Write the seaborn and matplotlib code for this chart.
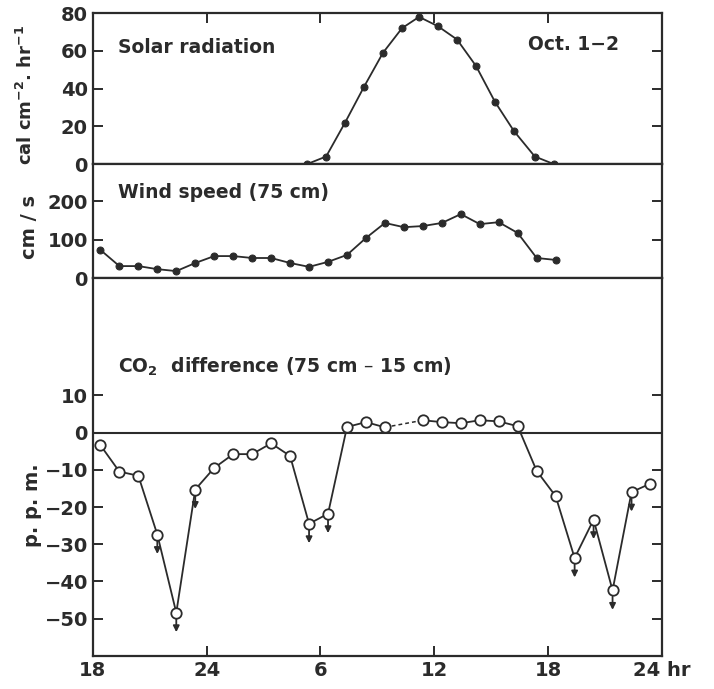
import numpy as np
import pandas as pd
import matplotlib
matplotlib.use("Agg")
import matplotlib.pyplot as plt
import seaborn as sns

# ---- data (hours counted from 18 h on Oct. 1; 48 = 24 h on Oct. 2) ----
solar_hours = [29.3, 30.3, 31.3, 32.3, 33.3, 34.3, 35.2, 36.2, 37.2, 38.2, 39.2, 40.2, 41.3, 42.3]
solar_vals = [0, 4, 22, 41, 59, 72, 78, 73, 66, 52, 33, 17.5, 4, 0]

wind_hours = [18.4, 19.4, 20.4, 21.4, 22.4, 23.4, 24.4, 25.4, 26.4, 27.4, 28.4, 29.4, 30.4,
              31.4, 32.4, 33.4, 34.4, 35.4, 36.4, 37.4, 38.4, 39.4, 40.4, 41.4, 42.4]
wind_vals = [73, 31, 31, 23, 18, 39, 57, 57, 52, 52, 39, 29, 42,
             60, 104, 143, 132, 135, 143, 166, 140, 145, 117, 52, 47]

co2_hours = [18.4, 19.4, 20.4, 21.4, 22.4, 23.4, 24.4, 25.4, 26.4, 27.4, 28.4, 29.4, 30.4,
             31.4, 32.4, 33.4, 34.4, 35.4, 36.4, 37.4, 38.4, 39.4, 40.4, 41.4, 42.4, 43.4,
             44.4, 45.4, 46.4, 47.4]
co2_vals = [-3.4, -10.5, -11.6, -27.4, -48.4, -15.3, -9.5, -5.8, -5.8, -2.9, -6.3, -24.5, -21.8,
            1.5, 2.8, 1.4, np.nan, 3.3, 2.8, 2.5, 3.3, 3.0, 1.7, -10.3, -17.1, -33.7,
            -23.4, -42.4, -16.0, -13.7]
# points whose true value lies below the plotted one (drawn with a downward arrow)
co2_below = [0, 0, 0, 1, 1, 1, 0, 0, 0, 0, 0, 1, 1,
             0, 0, 0, 0, 0, 0, 0, 0, 0, 0, 0, 0, 1,
             1, 1, 1, 0]

x_ticks = [18, 24, 30, 36, 42, 48]
x_ticklabels = ["18", "24", "6", "12", "18", "24 hr"]
solar_ticks = [0, 20, 40, 60, 80]
wind_ticks = [0, 100, 200]
co2_ticks = [10, 0, -10, -20, -30, -40, -50]

# ---- style ----
sns.set_theme(style="ticks")
plt.rcParams["font.family"] = ["DejaVu Sans"]
plt.rcParams["font.weight"] = "bold"
INK = "#2b2b2b"
plt.rcParams.update({
    "axes.edgecolor": INK, "axes.linewidth": 1.6,
    "axes.labelweight": "bold",
    "xtick.color": INK, "ytick.color": INK,
    "xtick.labelcolor": INK, "ytick.labelcolor": INK,
    "xtick.direction": "in", "ytick.direction": "in",
    "xtick.major.size": 7, "ytick.major.size": 7,
    "xtick.major.width": 1.4, "ytick.major.width": 1.4,
    "xtick.labelsize": 14, "ytick.labelsize": 14,
    "text.color": INK, "axes.labelcolor": INK,
})

fig = plt.figure(figsize=(7.14, 6.89), dpi=100)
gs = fig.add_gridspec(3, 1, height_ratios=[151, 114, 378], hspace=0,
                      left=0.130, right=0.927, top=0.981, bottom=0.048)
ax1 = fig.add_subplot(gs[0])
ax2 = fig.add_subplot(gs[1], sharex=ax1)
ax3 = fig.add_subplot(gs[2], sharex=ax1)

# Solar radiation
sns.lineplot(x=solar_hours, y=solar_vals, ax=ax1, color=INK, lw=1.3,
             marker="o", markersize=5, markeredgecolor=INK, markerfacecolor=INK,
             estimator=None, sort=False)
ax1.set_ylim(0, 80)
ax1.set_yticks(solar_ticks)
ax1.set_ylabel("cal cm$^{-2}$. hr$^{-1}$", fontsize=13)
ax1.text(0.045, 0.77, "Solar radiation", transform=ax1.transAxes, fontsize=13.5,
         ha="left", va="center")
ax1.text(0.925, 0.79, "Oct. 1\u22122", transform=ax1.transAxes, fontsize=13.5,
         ha="right", va="center")
ax1.tick_params(axis="x", which="both", top=True, bottom=False, labelbottom=False)
ax1.tick_params(axis="y", right=True)

# Wind speed
sns.lineplot(x=wind_hours, y=wind_vals, ax=ax2, color=INK, lw=1.3,
             marker="o", markersize=5, markeredgecolor=INK, markerfacecolor=INK,
             estimator=None, sort=False)
ax2.set_ylim(0, 296)
ax2.set_yticks(wind_ticks)
ax2.set_ylabel("cm / s", fontsize=14)
ax2.text(0.045, 0.75, "Wind speed (75 cm)", transform=ax2.transAxes, fontsize=13.5,
         ha="left", va="center")
ax2.tick_params(axis="x", which="both", top=False, bottom=False, labelbottom=False)
ax2.tick_params(axis="y", right=True)

# CO2 difference
co2 = pd.DataFrame({"h": co2_hours, "v": co2_vals, "below": co2_below})
co2["seg"] = co2["v"].isna().cumsum()
ax3.axhline(0, color=INK, lw=1.5, zorder=1)
for _, seg in co2.dropna().groupby("seg"):
    sns.lineplot(data=seg, x="h", y="v", ax=ax3, color=INK, lw=1.3,
                 marker="o", markersize=7.5, markeredgecolor=INK, markerfacecolor="white",
                 markeredgewidth=1.3, estimator=None, sort=False, zorder=3)
# dashed bridge across missing observations
gaps = co2.index[co2["v"].isna()]
for i in gaps:
    ax3.plot([co2.h[i - 1], co2.h[i + 1]], [co2.v[i - 1], co2.v[i + 1]],
             ls=(0, (2.5, 2)), color=INK, lw=1.1, zorder=2)
for _, r in co2[co2["below"] == 1].iterrows():
    ax3.annotate("", xy=(r.h, r.v), xytext=(0, -14), textcoords="offset points",
                 arrowprops=dict(arrowstyle="<|-", color=INK, lw=1.3,
                                 mutation_scale=9, shrinkA=0, shrinkB=4.5))
ax3.set_ylim(-60, 41.5)
ax3.set_yticks(co2_ticks)
ax3.set_ylabel("p. p. m.", fontsize=14)
ax3.yaxis.set_label_coords(-0.09, 0.40)
ax3.text(0.045, 0.765, "CO$_2$  difference (75 cm \u2013 15 cm)", transform=ax3.transAxes,
         fontsize=13.5, ha="left", va="center")
ax3.tick_params(axis="y", right=True)
ax3.tick_params(axis="x", top=False, bottom=True)
ax3.set_xlim(18, 48)
ax3.set_xticks(x_ticks)
ax3.set_xticklabels(x_ticklabels)
ax3.set_xlabel("")
for ax in (ax1, ax2):
    ax.set_xlabel("")

ax1.yaxis.set_label_coords(-0.1, 0.46)
ax2.yaxis.set_label_coords(-0.095, 0.45)

fig.savefig("out.png", dpi=100, facecolor="white")
